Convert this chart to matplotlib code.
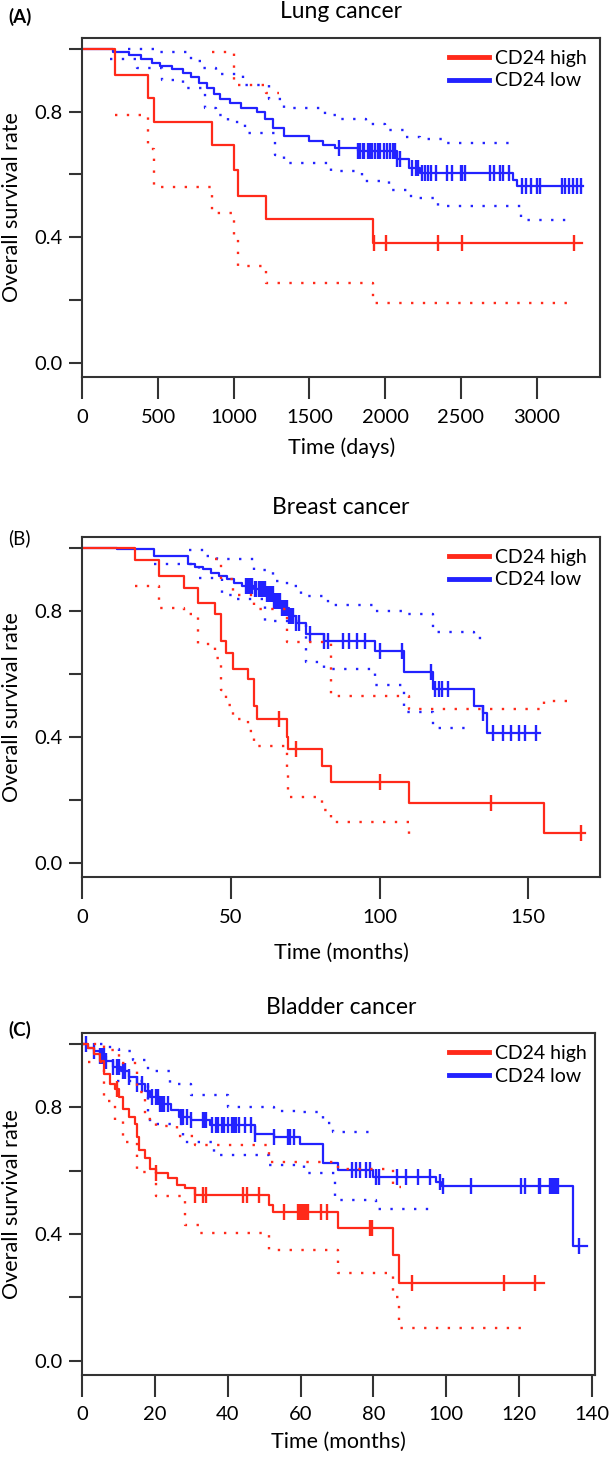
import numpy as np
import matplotlib
matplotlib.use("Agg")
import matplotlib.pyplot as plt
from matplotlib.lines import Line2D

plt.rcParams['font.family'] = ['Lato', 'DejaVu Sans']

RED = '#ff2a1a'
BLUE = '#2222ff'
GREY = '#333333'

# ---- Panel A: lung cancer (days) ----
a_hi_t = [0, 218, 436, 474, 859, 1000, 1026, 1213, 1918, 3300]
a_hi_s = [1.0, 0.915, 0.842, 0.766, 0.693, 0.614, 0.533, 0.459, 0.382, 0.382]
a_hi_cens = [1928, 2008, 2346, 2508, 3244]
a_hi_up_t = [859, 1000, 1026, 1213, 1300]
a_hi_up_s = [0.99, 0.90, 0.883, 0.86, 0.86]
a_hi_lo_t = [218, 436, 474, 859, 1000, 1026, 1213, 1918, 3244]
a_hi_lo_s = [0.79, 0.68, 0.56, 0.478, 0.40, 0.31, 0.255, 0.19, 0.19]

a_lo_t = [0, 205, 308, 385, 462, 513, 590, 667, 718, 769, 821, 872, 910, 974, 1051,
          1154, 1205, 1256, 1333, 1500, 1590, 1667, 1821, 2077, 2154, 2231, 2846, 2872, 3308]
a_lo_s = [1.0, 0.99, 0.98, 0.968, 0.955, 0.945, 0.936, 0.924, 0.911, 0.892, 0.876, 0.855, 0.839,
          0.828, 0.812, 0.798, 0.775, 0.748, 0.722, 0.706, 0.695, 0.685, 0.674, 0.648, 0.621,
          0.605, 0.584, 0.563, 0.563]
a_lo_cens = [1692, 1821, 1835, 1850, 1860, 1885, 1900, 1915, 1930, 1950, 1965, 1990, 2010,
             2030, 2050, 2065, 2080, 2100, 2180, 2200, 2215, 2240, 2260, 2280, 2300, 2333,
             2410, 2440, 2500, 2510, 2525, 2690, 2720, 2760, 2780, 2820, 2900, 2930, 2960,
             3000, 3025, 3166, 3190, 3215, 3240, 3265, 3295]
a_lo_up_t = [300, 487, 718, 795, 885, 1064, 1231, 1333, 1603, 1692, 1872, 2000, 2128, 2231, 2385, 2846]
a_lo_up_s = [1.0, 0.99, 0.96, 0.94, 0.92, 0.883, 0.84, 0.81, 0.788, 0.778, 0.76, 0.74, 0.72, 0.713, 0.70, 0.70]
a_lo_lo_t = [180, 359, 526, 667, 808, 885, 962, 1077, 1269, 1333, 1641, 1846, 2026, 2167, 2346, 2897, 3231]
a_lo_lo_s = [0.968, 0.94, 0.9, 0.876, 0.812, 0.79, 0.766, 0.732, 0.663, 0.637, 0.61, 0.578,
             0.55, 0.525, 0.5, 0.456, 0.456]

# ---- Panel B: breast cancer (months) ----
b_hi_t = [0, 17.7, 25.9, 34.1, 39.0, 44.5, 46.5, 48.2, 50.8, 55.7, 57.6, 58.6, 68.8, 69.2,
          80.6, 83.8, 110.0, 155.2, 169]
b_hi_s = [1.0, 0.96, 0.91, 0.873, 0.826, 0.789, 0.704, 0.667, 0.617, 0.585, 0.498, 0.458,
          0.401, 0.361, 0.308, 0.256, 0.192, 0.095, 0.095]
b_hi_cens = [66.2, 71.7, 100.2, 137.6, 167.7]
b_hi_up_t = [44.5, 46.5, 50.8, 57.6, 68.8, 83.8, 110.0, 155.2, 165]
b_hi_up_s = [0.963, 0.90, 0.85, 0.805, 0.70, 0.53, 0.49, 0.514, 0.514]
b_hi_lo_t = [17.7, 25.9, 34.1, 39.0, 44.5, 46.5, 48.2, 50.8, 55.7, 57.6, 68.8, 69.2, 80.6,
             83.8, 110.0, 111]
b_hi_lo_s = [0.88, 0.81, 0.79, 0.694, 0.65, 0.55, 0.50, 0.458, 0.42, 0.372, 0.279, 0.211,
             0.169, 0.129, 0.092, 0.092]

b_lo_t = [0, 11.8, 24.2, 35.4, 38.0, 40.6, 43.2, 45.9, 48.5, 51.1, 53.7, 57.6, 61.6, 64.2,
          66.8, 69.4, 72.0, 75.3, 81.2, 98.3, 108.1, 117.9, 131.7, 134.9, 136.2, 153.9]
b_lo_s = [1.0, 0.995, 0.974, 0.947, 0.94, 0.932, 0.921, 0.91, 0.9, 0.888, 0.88, 0.868, 0.852,
          0.831, 0.81, 0.784, 0.762, 0.725, 0.704, 0.673, 0.606, 0.553, 0.498, 0.477, 0.414, 0.414]
b_lo_cens = [55.0, 55.5, 56.0, 56.5, 57.0, 58.0, 58.5, 59.5, 60.0, 60.5, 61.0, 61.5, 62.0,
             62.5, 63.0, 63.5, 64.0, 64.5, 65.0, 65.5, 66.0, 66.5, 67.0, 67.5, 68.0, 68.5,
             69.0, 69.5, 70.0, 70.5, 71.0, 72.0, 73.0, 76.6, 81.2, 82.5, 87.8, 89.8, 92.4,
             95.0, 100.2, 107.4, 117.2, 118.5, 119.8, 121.1, 123.1, 134.9, 138.2, 141.5,
             144.1, 146.7, 149.0, 152.6]
b_lo_up_t = [36, 41.3, 45.2, 57.6, 64.2, 68.8, 73.4, 82.5, 98.3, 108.1, 117.9, 131.7, 134.9]
b_lo_up_s = [0.993, 0.974, 0.963, 0.93, 0.894, 0.88, 0.847, 0.82, 0.80, 0.789, 0.733, 0.715, 0.715]
b_lo_lo_t = [24.2, 39.3, 47.0, 51.0, 61.6, 75.3, 81.2, 98.3, 108.1, 117.9, 129.7]
b_lo_lo_s = [0.947, 0.905, 0.85, 0.836, 0.768, 0.638, 0.615, 0.565, 0.48, 0.427, 0.427]

# ---- Panel C: bladder cancer (months) ----
c_hi_t = [0, 1.6, 3.2, 4.8, 5.9, 7.5, 9.1, 10.1, 11.2, 12.8, 14.4, 14.9, 15.5, 17.1, 18.7,
          20.3, 23.5, 26.1, 28.3, 30.9, 51.2, 52.3, 70.4, 85.4, 87.0, 127.0]
c_hi_s = [1.0, 0.987, 0.969, 0.948, 0.906, 0.874, 0.859, 0.832, 0.796, 0.77, 0.749, 0.707,
          0.665, 0.639, 0.607, 0.592, 0.576, 0.555, 0.545, 0.524, 0.492, 0.471, 0.419, 0.335,
          0.246, 0.246]
c_hi_cens = [9.6, 20.3, 30.9, 33.1, 33.9, 44.3, 45.4, 48.6, 55.5, 59.2, 59.8, 60.3, 60.8,
             61.4, 61.9, 65.6, 67.2, 79.0, 79.5, 90.7, 115.8, 124.3]
c_hi_up_t = [0, 5.9, 10.1, 14.9, 17.1, 20.3, 26.1, 30.9, 51.2, 70.4, 85.4, 87.5]
c_hi_up_s = [1.0, 0.98, 0.94, 0.85, 0.765, 0.74, 0.71, 0.68, 0.628, 0.607, 0.55, 0.55]
c_hi_lo_t = [1.6, 5.9, 9.1, 11.2, 14.9, 20.3, 28.3, 32.0, 51.2, 70.4, 85.4, 87.0, 123.0]
c_hi_lo_s = [0.942, 0.82, 0.76, 0.69, 0.596, 0.52, 0.428, 0.403, 0.351, 0.277, 0.2, 0.105, 0.105]

c_lo_t = [0, 1.6, 3.2, 4.8, 6.4, 8.5, 10.7, 12.8, 14.9, 17.1, 18.7, 21.3, 24.5, 26.7, 29.9,
          35.2, 47.5, 52.8, 59.8, 66.2, 70.4, 80.0, 97.1, 98.7, 135.0, 138.7]
c_lo_s = [1.0, 0.987, 0.979, 0.963, 0.948, 0.927, 0.916, 0.895, 0.874, 0.853, 0.832, 0.812,
          0.791, 0.77, 0.759, 0.743, 0.717, 0.707, 0.686, 0.623, 0.602, 0.581, 0.565, 0.552,
          0.361, 0.361]
c_lo_cens = [1.1, 3.2, 4.8, 5.3, 5.9, 6.4, 8.5, 9.6, 10.1, 11.2, 11.7, 12.8, 14.9, 16.5,
             18.1, 19.2, 20.3, 20.8, 21.3, 21.9, 22.4, 23.5, 27.2, 27.7, 28.8, 29.9, 33.1,
             33.6, 34.1, 35.7, 36.8, 37.3, 38.4, 38.9, 40.0, 41.1, 41.6, 42.2, 43.2, 44.8,
             46.4, 47.5, 52.8, 56.6, 57.1, 58.2, 74.2, 75.2, 76.3, 77.9, 79.0, 80.6, 81.6,
             86.4, 89.1, 92.3, 95.5, 98.2, 99.2, 106.7, 120.6, 121.7, 125.4, 125.9, 128.6,
             129.1, 129.7, 130.2, 130.7, 136.6]
c_lo_up_t = [5.0, 7.5, 10.0, 13.9, 18.1, 24.0, 30.0, 40.0, 52.8, 59.8, 66.2, 68.8, 81.0]
c_lo_up_s = [1.0, 0.984, 0.979, 0.95, 0.916, 0.875, 0.84, 0.80, 0.79, 0.785, 0.75, 0.722, 0.722]
c_lo_lo_t = [9.6, 18.1, 20.3, 27.7, 36.3, 51.2, 60.8, 69.4, 80.6, 96.6]
c_lo_lo_s = [0.885, 0.76, 0.749, 0.69, 0.649, 0.618, 0.592, 0.508, 0.479, 0.479]

panels = [
    dict(letter='(A)', weight='bold', title='Lung cancer', xlabel='Time (days)',
         xmax=3420, xticks=[0, 500, 1000, 1500, 2000, 2500, 3000],
         hi=(a_hi_t, a_hi_s, a_hi_cens, a_hi_up_t, a_hi_up_s, a_hi_lo_t, a_hi_lo_s),
         lo=(a_lo_t, a_lo_s, a_lo_cens, a_lo_up_t, a_lo_up_s, a_lo_lo_t, a_lo_lo_s),
         box=(37.7, 377.3), width=518, title_y=12, letter_y=17, xlabel_y=448),
    dict(letter='(B)', weight='normal', title='Breast cancer', xlabel='Time (months)',
         xmax=174.2, xticks=[0, 50, 100, 150],
         hi=(b_hi_t, b_hi_s, b_hi_cens, b_hi_up_t, b_hi_up_s, b_hi_lo_t, b_hi_lo_s),
         lo=(b_lo_t, b_lo_s, b_lo_cens, b_lo_up_t, b_lo_up_s, b_lo_lo_t, b_lo_lo_s),
         box=(536.7, 877.3), width=518, title_y=507, letter_y=538, xlabel_y=953),
    dict(letter='(C)', weight='bold', title='Bladder cancer', xlabel='Time (months)',
         xmax=141, xticks=[0, 20, 40, 60, 80, 100, 120, 140],
         hi=(c_hi_t, c_hi_s, c_hi_cens, c_hi_up_t, c_hi_up_s, c_hi_lo_t, c_hi_lo_s),
         lo=(c_lo_t, c_lo_s, c_lo_cens, c_lo_up_t, c_lo_up_s, c_lo_lo_t, c_lo_lo_s),
         box=(1033, 1375), width=513, title_y=1008, letter_y=1030, xlabel_y=1442),
]

W, H = 611, 1457
fig = plt.figure(figsize=(W / 100, H / 100), dpi=100)
DOTS = (0, (1.0, 4.0))


def step_at(t, s, x):
    idx = np.searchsorted(t, x, side='right') - 1
    return np.asarray(s)[idx]


def draw_group(ax, data, color):
    t, s, cens, up_t, up_s, lo_t, lo_s = data
    ax.step(up_t, up_s, where='post', color=color, lw=1.7, ls=DOTS)
    ax.step(lo_t, lo_s, where='post', color=color, lw=1.7, ls=DOTS)
    ax.step(t, s, where='post', color=color, lw=1.6)
    ax.plot(cens, step_at(t, s, cens), ls='none', marker='|', ms=12, mew=1.7, color=color)


for p in panels:
    top, bot = p['box']
    ax = fig.add_axes([82.3 / W, 1 - bot / H, p['width'] / W, (bot - top) / H])
    draw_group(ax, p['lo'], BLUE)
    draw_group(ax, p['hi'], RED)

    ax.set_xlim(0, p['xmax'])
    ax.set_ylim(-0.045, 1.035)
    ax.set_xticks(p['xticks'])
    ax.set_xticklabels([str(v) for v in p['xticks']])
    yt = [0.0, 0.2, 0.4, 0.6, 0.8, 1.0]
    ax.set_yticks(yt)
    ax.set_yticklabels(['0.0', '', '0.4', '', '0.8', ''])
    ax.tick_params(axis='x', length=16, width=1.5, pad=6.5, labelsize=14.5, color=GREY)
    ax.tick_params(axis='y', length=9.4, width=1.5, pad=4.7, labelsize=14.5, color=GREY)
    for sp in ax.spines.values():
        sp.set_linewidth(1.5)
        sp.set_color(GREY)

    ax.set_xlabel(p['xlabel'], fontsize=15.5)
    ax.xaxis.label.set_va('center')
    ax.xaxis.set_label_coords(0.5, (bot - p['xlabel_y']) / (bot - top))
    ax.set_ylabel('Overall survival rate', fontsize=15.5)
    ax.yaxis.label.set_va('center')
    ax.yaxis.set_label_coords((12 - 82.3) / p['width'], 0.5)

    handles = [Line2D([], [], color=RED, lw=3.5), Line2D([], [], color=BLUE, lw=3.5)]
    ax.legend(handles, ['CD24 high', 'CD24 low'], loc='upper right',
              bbox_to_anchor=((587 - 82.3) / p['width'], 0.965), frameon=False, fontsize=14,
              handlelength=2.1, handletextpad=0.3, labelspacing=0.3,
              borderaxespad=0, borderpad=0)

    fig.text(341 / W, 1 - p['title_y'] / H, p['title'], ha='center', va='center', fontsize=16.5)
    fig.text(8 / W, 1 - p['letter_y'] / H, p['letter'], ha='left', va='center',
             fontsize=13.5, fontweight=p['weight'])

fig.savefig('out.png', dpi=100)
